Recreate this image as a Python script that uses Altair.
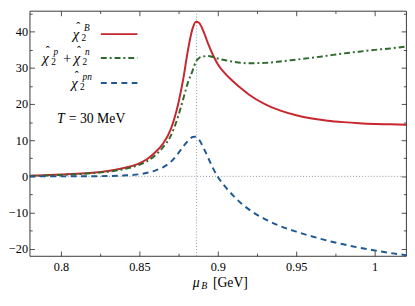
import altair as alt
import pandas as pd

# ---- data ----
mu = [0.78, 0.79, 0.80, 0.81, 0.82, 0.83, 0.84, 0.85, 0.855, 0.86, 0.865, 0.87,
      0.875, 0.878, 0.881, 0.884, 0.886, 0.888, 0.891, 0.894, 0.897, 0.90, 0.905,
      0.91, 0.915, 0.92, 0.93, 0.94, 0.95, 0.96, 0.97, 0.98, 0.99, 1.00, 1.01, 1.02]
chi_B = [0.2, 0.3, 0.5, 0.7, 1.0, 1.5, 2.3, 3.6, 4.8, 6.6, 9.0, 13.0,
         20.5, 27.0, 35.0, 41.0, 42.8, 42.5, 40.0, 36.5, 33.5, 31.0, 28.3,
         26.2, 24.3, 22.6, 20.0, 18.2, 16.9, 16.0, 15.4, 15.0, 14.7, 14.5, 14.4, 14.3]
chi_sum = [0.1, 0.25, 0.4, 0.6, 0.9, 1.3, 2.0, 3.2, 4.2, 5.8, 8.0, 11.2,
           17.0, 21.5, 26.0, 29.3, 31.7, 32.7, 33.2, 33.3, 33.0, 32.6, 32.1,
           31.7, 31.4, 31.3, 31.4, 31.8, 32.3, 32.8, 33.4, 34.0, 34.5, 35.0, 35.4, 35.9]
chi_pn = [0.0, 0.0, 0.0, 0.02, 0.05, 0.1, 0.25, 0.6, 1.0, 1.6, 2.5, 4.0,
          6.5, 8.3, 9.8, 10.9, 11.0, 10.2, 7.8, 5.0, 2.2, -0.1, -3.0,
          -5.4, -7.5, -9.2, -11.8, -13.8, -15.3, -16.6, -17.8, -18.8, -19.7, -20.5, -21.2, -21.8]
mu_peak = [0.8865]
x_major = [0.8, 0.85, 0.9, 0.95, 1.0]
x_minor = [0.825, 0.875, 0.925, 0.975]
y_major = [-20, -10, 0, 10, 20, 30, 40]
y_minor = [-15, -5, 5, 15, 25, 35, 45]
x_domain = [0.78, 1.02]
y_domain = [-22, 45.8]

RED = "#c8262e"
GREEN = "#2e6a2c"
BLUE = "#1f5893"
GRAY = "#8a96a3"
FONT = "Liberation Serif"

df = pd.DataFrame({"mu": mu, "B": chi_B, "S": chi_sum, "PN": chi_pn})
xs = alt.Scale(domain=x_domain, nice=False, zero=False)
ys = alt.Scale(domain=y_domain, nice=False, zero=False)


def ax(orient, values, size, labels=False, fmt=None, pad=2):
    kw = dict(orient=orient, values=values, tickSize=size, offset=-size,
              domain=False, grid=False, labels=labels, title=None,
              tickColor="#222", tickWidth=0.8)
    if labels:
        kw.update(labelFont=FONT, labelFontSize=12.5, labelColor="black",
                  labelPadding=pad, labelOverlap=False, labelFlush=False)
    if fmt:
        kw["format"] = fmt
    return alt.Axis(**kw)


hline = alt.Chart(pd.DataFrame({"mu": x_domain, "v": [0, 0]})).mark_line(
    color=GRAY, strokeWidth=1, strokeDash=[1, 2]).encode(
    x=alt.X("mu:Q", scale=xs, axis=ax("top", x_minor, 2.7)),
    y=alt.Y("v:Q", scale=ys, axis=ax("right", y_minor, 2.7)))

vline = alt.Chart(pd.DataFrame({"mu": mu_peak})).mark_rule(
    color=GRAY, strokeWidth=1, strokeDash=[1, 2]).encode(
    x=alt.X("mu:Q", scale=xs, axis=None))

red = alt.Chart(df).mark_line(color=RED, strokeWidth=2, interpolate="monotone", clip=True).encode(
    x=alt.X("mu:Q", scale=xs, axis=ax("bottom", x_major, 5, True, "~g", pad=5)),
    y=alt.Y("B:Q", scale=ys, axis=ax("left", y_major, 5, True)))

green = alt.Chart(df).mark_line(color=GREEN, strokeWidth=2, interpolate="monotone",
                                strokeDash=[6, 3, 2, 3], clip=True).encode(
    x=alt.X("mu:Q", scale=xs, axis=ax("bottom", x_minor, 2.7)),
    y=alt.Y("S:Q", scale=ys, axis=ax("left", y_minor, 2.7)))

blue = alt.Chart(df).mark_line(color=BLUE, strokeWidth=2, interpolate="monotone",
                               strokeDash=[6, 4.5], clip=True).encode(
    x=alt.X("mu:Q", scale=xs, axis=ax("top", x_major, 5)),
    y=alt.Y("PN:Q", scale=ys, axis=ax("right", y_major, 5)))


def txt(s, x, y, size=14, italic=False, align="left"):
    return alt.Chart(pd.DataFrame({"t": [s]})).mark_text(
        font=FONT, fontSize=size, fontStyle="italic" if italic else "normal",
        align=align, baseline="middle", color="black").encode(
        x=alt.value(x), y=alt.value(y), text="t:N")


def chi(x, y, sub, sup):
    """hat-chi with subscript 2 and a superscript"""
    return [txt("\u03c7", x, y, 15, True),
            txt("\u02c6", x + 5.5, y - 7.5, 12, align="center"),
            txt(sub, x + 9, y + 4.5, 9.5),
            txt(sup, x + 11.5, y - 6, 9.5, True)]


def sample(color, dash, y):
    kw = dict(color=color, strokeWidth=2)
    if dash:
        kw["strokeDash"] = dash
    return alt.Chart(pd.DataFrame({"s": [color]})).mark_rule(**kw).encode(
        x=alt.value(72.7), x2=alt.value(110), y=alt.value(y))


r1, r2, r3 = 23.8, 48.2, 73.7
legend = [
    sample(RED, None, r1), sample(GREEN, [6, 3, 2, 3], r2), sample(BLUE, [6, 4.5], r3),
    *chi(44, r1, "2", "B"),
    *chi(13, r2, "2", "p"),
    txt("+", 34, r2, 15),
    *chi(45, r2, "2", "n"),
    *chi(42.5, r3, "2", "pn"),
    # temperature
    txt("T", 28, 110.2, 14, True), txt("= 30 MeV", 40, 110.2, 14),
    # x-axis title
    txt("\u03bc", 166.5, 278, 14, True), txt("B", 175, 281, 10, True), txt("[GeV]", 187, 278, 14),
]

chart = alt.layer(hline, vline, red, green, blue, *legend).resolve_axis(
    x="independent", y="independent").properties(
    width=384, height=250,
    autosize=alt.AutoSizeParams(type="none"),
    padding={"left": 22, "top": 0, "right": 1, "bottom": 36},
).configure_view(stroke="#222", strokeWidth=0.9).configure_axis(
    labelFont=FONT, labelColor="black")

chart.save("out.html", embed_options={"renderer": "svg", "actions": False})
